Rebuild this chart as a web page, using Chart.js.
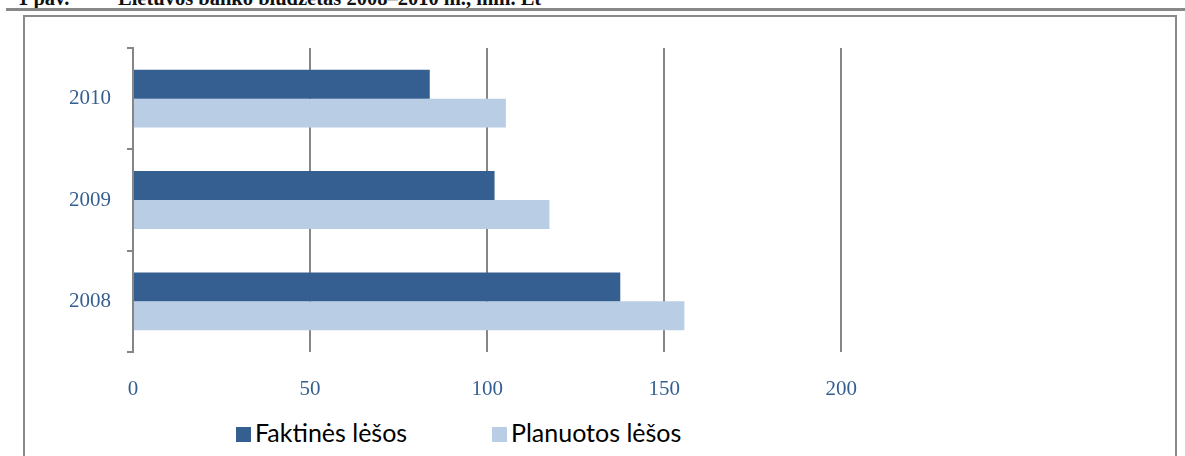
<!DOCTYPE html>
<html>
<head>
<meta charset="utf-8">
<script src="https://cdn.jsdelivr.net/npm/chart.js@4"></script>
<style>
    body { margin: 0; background: #fff; width: 1185px; height: 456px; overflow: hidden; position: relative; }
    .title { position: absolute; top: -12px; font: bold 20.5px "Liberation Serif", serif; color: #111; white-space: nowrap; line-height: 20px; }
    .rule { position: absolute; left: 6px; right: 0; top: 8px; height: 3px; background: #888; }
    .box { position: absolute; left: 23px; top: 15px; width: 1150px; height: 460px; border: 2px solid #8a8a8a; }
    #wrap { position: absolute; left: 25px; top: 17px; width: 857px; height: 385px; }
    .legend-item { position: absolute; top: 419px; font: 25px Lato, sans-serif; color: #000; line-height: 26px; white-space: nowrap; }
    .legend-item span { display: inline-block; width: 15px; height: 15px; margin-right: 4px; vertical-align: 0px; }
</style>
</head>
<body>
<div class="title" style="left: 18px;">1 pav.</div>
<div class="title" style="left: 118px;">Lietuvos banko biudžetas 2008–2010 m., mln. Lt</div>
<div class="rule"></div>
<div class="box"></div>
<div id="wrap"><canvas id="budgetChart"></canvas></div>
<div class="legend-item" id="leg0" style="left: 236px;"></div>
<div class="legend-item" id="leg1" style="left: 492px;"></div>
<script>
var years = ['2010', '2009', '2008'];
var actual = [83.8, 102.1, 137.6];
var planned = [105.3, 117.6, 155.7];
var seriesNames = ['Faktinės lėšos', 'Planuotos lėšos'];
var xTicks = [0, 50, 100, 150, 200];

var colors = ['#365F91', '#B9CDE5'];
var gridGray = '#868686';
var labelBlue = '#365F91';

var ctx = document.getElementById('budgetChart').getContext('2d');
var chart = new Chart(ctx, {
    type: 'bar',
    data: {
        labels: years,
        datasets: [{
            label: seriesNames[0],
            data: actual,
            backgroundColor: colors[0]
        }, {
            label: seriesNames[1],
            data: planned,
            backgroundColor: colors[1]
        }]
    },
    options: {
        indexAxis: 'y',
        responsive: true,
        maintainAspectRatio: false,
        animation: false,
        layout: { padding: { left: 0, right: 30, top: 31, bottom: 0 } },
        datasets: { bar: { categoryPercentage: 0.57, barPercentage: 1.0 } },
        plugins: {
            legend: { display: false },
            tooltip: { enabled: false }
        },
        scales: {
            x: {
                min: 0,
                max: 200,
                afterBuildTicks: function (scale) {
                    scale.ticks = xTicks.map(function (v) { return { value: v }; });
                },
                afterFit: function (scale) { scale.height = 50; },
                grid: { color: gridGray, lineWidth: 2, drawTicks: false },
                border: { display: false },
                ticks: {
                    padding: 25,
                    color: labelBlue,
                    font: { family: 'Liberation Serif', size: 21 }
                }
            },
            y: {
                afterFit: function (scale) { scale.width = 108; },
                grid: { color: gridGray, lineWidth: 2, drawOnChartArea: false, tickLength: 6, offset: true },
                border: { color: gridGray, width: 2 },
                ticks: {
                    padding: 16,
                    color: labelBlue,
                    font: { family: 'Liberation Serif', size: 21 }
                }
            }
        }
    }
});

// legend as html, using the dataset names and colours
chart.data.datasets.forEach(function (ds, i) {
    var el = document.getElementById('leg' + i);
    el.innerHTML = '<span style="background:' + ds.backgroundColor + '"></span>' + ds.label;
});
</script>
</body>
</html>
